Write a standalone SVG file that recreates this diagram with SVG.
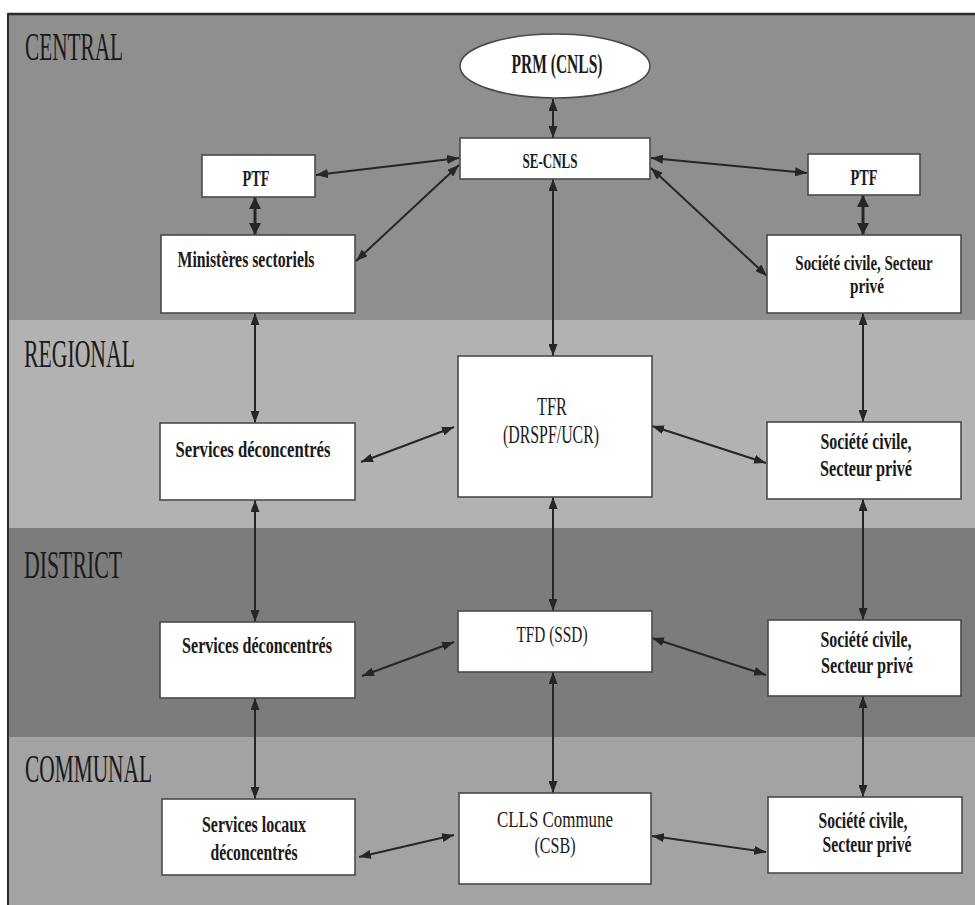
<svg xmlns="http://www.w3.org/2000/svg" width="975" height="905" viewBox="0 0 975 905">
<style>
.band-label{font-size:40px;fill:#1a1a1a}
.node rect,.node ellipse{fill:#ffffff;stroke:#4a4a4a;stroke-width:1.6}
.node text{font-size:23px;font-weight:bold;fill:#1a1a1a;text-anchor:middle}
.conn line{stroke:#262626;stroke-width:2;marker-start:url(#ah);marker-end:url(#ah)}
.conn line.thick{stroke-width:3;marker-start:url(#ahb);marker-end:url(#ahb)}
</style>
<defs>
<marker id="ah" markerUnits="userSpaceOnUse" markerWidth="12" markerHeight="9" refX="12" refY="4.5" orient="auto-start-reverse"><path d="M0,0 L12,4.5 L0,9 z" fill="#262626"/></marker>
<marker id="ahb" markerUnits="userSpaceOnUse" markerWidth="12" markerHeight="12" refX="12" refY="6" orient="auto-start-reverse"><path d="M0,0 L12,6 L0,12 z" fill="#262626"/></marker>
</defs>
<rect x="0" y="0" width="975" height="905" fill="#ffffff"/>
<g id="bands" font-family="'Liberation Serif', 'DejaVu Serif', 'Times New Roman', serif">
<rect x="8" y="14" width="967" height="306" fill="#8f8f8f"/>
<rect x="8" y="320" width="967" height="208" fill="#b2b2b2"/>
<rect x="8" y="528" width="967" height="209" fill="#7c7c7c"/>
<rect x="8" y="737" width="967" height="168" fill="#a3a3a3"/>
<line x1="8" y1="14" x2="975" y2="14" stroke="#2a2a2a" stroke-width="2.5"/>
<line x1="8" y1="13" x2="8" y2="905" stroke="#2a2a2a" stroke-width="2"/>
<text class="band-label" x="25" y="60" textLength="98" lengthAdjust="spacingAndGlyphs">CENTRAL</text>
<text class="band-label" x="24" y="367" textLength="111" lengthAdjust="spacingAndGlyphs">REGIONAL</text>
<text class="band-label" x="24" y="578" textLength="98" lengthAdjust="spacingAndGlyphs">DISTRICT</text>
<text class="band-label" x="25" y="782" textLength="127" lengthAdjust="spacingAndGlyphs">COMMUNAL</text>
</g>
<g id="connectors" class="conn">
<line x1="553" y1="99" x2="553" y2="138"/>
<line x1="459" y1="158" x2="316" y2="175"/>
<line x1="459" y1="165" x2="356" y2="261"/>
<line x1="651" y1="158" x2="807" y2="173"/>
<line x1="651" y1="168" x2="767" y2="276"/>
<line class="thick" x1="255" y1="197" x2="255" y2="235"/>
<line class="thick" x1="863" y1="195" x2="863" y2="235"/>
<line x1="553" y1="179" x2="553" y2="356"/>
<line x1="255" y1="313" x2="255" y2="423"/>
<line x1="863" y1="313" x2="863" y2="422"/>
<line x1="361" y1="462" x2="454" y2="427"/>
<line x1="652" y1="426" x2="766" y2="463"/>
<line x1="255" y1="500" x2="255" y2="622"/>
<line x1="553" y1="497" x2="553" y2="611"/>
<line x1="863" y1="499" x2="863" y2="620"/>
<line x1="362" y1="676" x2="454" y2="642"/>
<line x1="652" y1="638" x2="766" y2="675"/>
<line x1="255" y1="698" x2="255" y2="799"/>
<line x1="553" y1="672" x2="553" y2="793"/>
<line x1="863" y1="696" x2="863" y2="797"/>
<line x1="359" y1="857" x2="454" y2="835"/>
<line x1="652" y1="836" x2="766" y2="852"/>
</g>
<g id="nodes" font-family="'Liberation Serif', 'DejaVu Serif', 'Times New Roman', serif">
<g id="prm" class="node"><ellipse cx="555" cy="66" rx="95" ry="32"/><text x="557" y="73" style="font-size:27px" textLength="91" lengthAdjust="spacingAndGlyphs">PRM (CNLS)</text></g>
<g id="se-cnls" class="node"><rect x="460" y="138" width="190" height="41"/><text x="550" y="168" style="font-size:21px" textLength="55" lengthAdjust="spacingAndGlyphs">SE-CNLS</text></g>
<g id="ptf-left" class="node"><rect x="202" y="155" width="113" height="42"/><text x="256" y="186" textLength="27" lengthAdjust="spacingAndGlyphs">PTF</text></g>
<g id="ptf-right" class="node"><rect x="808" y="154" width="112" height="41"/><text x="864" y="185" textLength="27" lengthAdjust="spacingAndGlyphs">PTF</text></g>
<g id="ministeres" class="node"><rect x="161" y="235" width="194" height="78"/><text x="246" y="267" textLength="137" lengthAdjust="spacingAndGlyphs">Ministères sectoriels</text></g>
<g id="societe-central" class="node"><rect x="767" y="235" width="194" height="78"/><text transform="translate(864,270) scale(0.68,1)" x="0" y="0" style="font-size:22px">Société civile, Secteur</text><text x="867" y="293" style="font-size:22px" textLength="34" lengthAdjust="spacingAndGlyphs">privé</text></g>
<g id="tfr" class="node"><rect x="458" y="356" width="194" height="141"/><text x="552" y="415" style="font-size:26px;font-weight:normal" textLength="30" lengthAdjust="spacingAndGlyphs">TFR</text><text x="551" y="443" style="font-size:26px;font-weight:normal" textLength="96" lengthAdjust="spacingAndGlyphs">(DRSPF/UCR)</text></g>
<g id="services-regional" class="node"><rect x="160" y="423" width="195" height="77"/><text x="253" y="457" textLength="155" lengthAdjust="spacingAndGlyphs">Services déconcentrés</text></g>
<g id="societe-regional" class="node"><rect x="767" y="422" width="194" height="77"/><text x="866" y="449" textLength="91" lengthAdjust="spacingAndGlyphs">Société civile,</text><text x="866" y="476" textLength="92" lengthAdjust="spacingAndGlyphs">Secteur privé</text></g>
<g id="tfd" class="node"><rect x="458" y="611" width="194" height="61"/><text x="552" y="642" style="font-weight:normal" textLength="71" lengthAdjust="spacingAndGlyphs">TFD (SSD)</text></g>
<g id="services-district" class="node"><rect x="160" y="622" width="195" height="76"/><text x="257" y="653" textLength="150" lengthAdjust="spacingAndGlyphs">Services déconcentrés</text></g>
<g id="societe-district" class="node"><rect x="768" y="620" width="193" height="76"/><text x="866" y="647" textLength="91" lengthAdjust="spacingAndGlyphs">Société civile,</text><text x="867" y="673" textLength="92" lengthAdjust="spacingAndGlyphs">Secteur privé</text></g>
<g id="services-locaux" class="node"><rect x="162" y="799" width="193" height="76"/><text x="254" y="832" textLength="104" lengthAdjust="spacingAndGlyphs">Services locaux</text><text x="254" y="860" textLength="87" lengthAdjust="spacingAndGlyphs">déconcentrés</text></g>
<g id="clls" class="node"><rect x="459" y="793" width="192" height="91"/><text x="555" y="827" style="font-weight:normal" textLength="116" lengthAdjust="spacingAndGlyphs">CLLS Commune</text><text x="555" y="853" style="font-weight:normal" textLength="41" lengthAdjust="spacingAndGlyphs">(CSB)</text></g>
<g id="societe-communal" class="node"><rect x="768" y="797" width="194" height="76"/><text x="863" y="828" textLength="89" lengthAdjust="spacingAndGlyphs">Société civile,</text><text x="867" y="852" textLength="89" lengthAdjust="spacingAndGlyphs">Secteur privé</text></g>
</g>
</svg>
